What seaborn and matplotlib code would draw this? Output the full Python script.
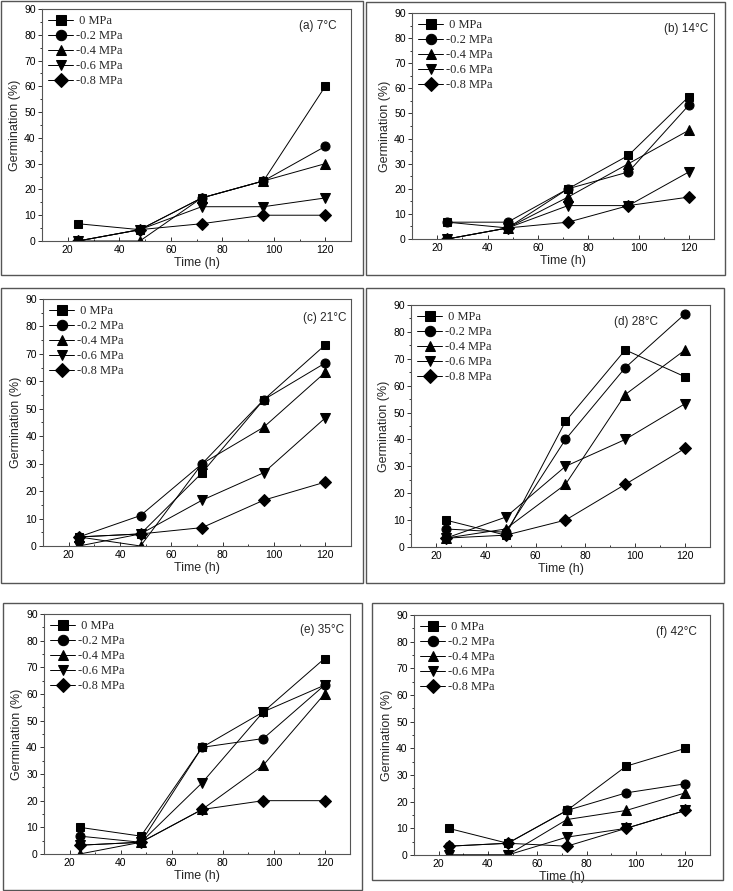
import numpy as np
import pandas as pd
import seaborn as sns
import matplotlib
matplotlib.use("Agg")
import matplotlib.pyplot as plt
from matplotlib.patches import Rectangle
from matplotlib.ticker import MultipleLocator

sns.set_theme(style="ticks")
plt.rcParams['font.family'] = ['Liberation Sans', 'DejaVu Sans']

times = [24, 48, 72, 96, 120]
series_labels = [" 0 MPa", "-0.2 MPa", "-0.4 MPa", "-0.6 MPa", "-0.8 MPa"]
panel_titles = ["(a) 7°C", "(b) 14°C", "(c) 21°C", "(d) 28°C", "(e) 35°C", "(f) 42°C"]

t7 = [[6.7, 4.4, 16.7, 23.3, 60.0],
      [0.0, 4.4, 16.7, 23.3, 36.7],
      [0.0, 0.0, 16.7, 23.3, 30.0],
      [0.0, 4.4, 13.3, 13.3, 16.7],
      [0.0, 4.4, 6.7, 10.0, 10.0]]
t14 = [[6.7, 4.4, 20.0, 33.3, 56.7],
       [6.7, 6.7, 20.0, 26.7, 53.3],
       [0.0, 4.4, 16.7, 30.0, 43.3],
       [0.0, 4.4, 13.3, 13.3, 26.7],
       [0.0, 4.4, 6.7, 13.3, 16.7]]
t21 = [[3.3, 4.4, 26.7, 53.3, 73.3],
       [3.3, 11.1, 30.0, 53.3, 66.7],
       [3.3, 0.0, 30.0, 43.3, 63.3],
       [0.0, 4.4, 16.7, 26.7, 46.7],
       [3.3, 4.4, 6.7, 16.7, 23.3]]
t28 = [[10.0, 4.4, 46.7, 73.3, 63.3],
       [6.7, 5.5, 40.0, 66.7, 86.7],
       [3.3, 6.7, 23.3, 56.7, 73.3],
       [3.3, 11.1, 30.0, 40.0, 53.3],
       [3.3, 4.4, 10.0, 23.3, 36.7]]
t35 = [[10.0, 6.7, 40.0, 53.3, 73.3],
       [6.7, 4.4, 40.0, 43.3, 63.3],
       [0.0, 4.4, 16.7, 33.3, 60.0],
       [3.3, 4.4, 26.7, 53.3, 63.3],
       [3.3, 4.4, 16.7, 20.0, 20.0]]
t42 = [[10.0, 4.4, 16.7, 33.3, 40.0],
       [3.3, 4.4, 16.7, 23.3, 26.7],
       [0.0, 0.0, 13.3, 16.7, 23.3],
       [0.0, 0.0, 6.7, 10.0, 16.7],
       [3.3, 4.4, 3.3, 10.0, 16.7]]
panels_data = [t7, t14, t21, t28, t35, t42]

W, H = 733, 891
fig = plt.figure(figsize=(W / 100, H / 100), dpi=100)

# pixel layout: frame (x0,y0,x1,y1), axes (x0,y0,x1,y1)
frames = [(1, 1, 363, 275), (366, 2, 725, 275),
          (1, 288, 363, 583), (366, 288, 724, 583),
          (3, 603, 362, 890), (372, 603, 723, 880)]
axes_px = [(42, 9, 351, 241), (412, 13, 714, 239),
           (43, 299, 351, 546), (411, 305, 710, 547),
           (44, 614, 350, 854), (414, 615, 710, 855)]
# title placement: (px from axes right to text right, px from axes top to text centre)
title_off = [(14, 17), (6, 16), (5, 19), (52, 17), (6, 16), (13, 17)]

markers = ['s', 'o', '^', 'v', 'D']
msizes = [6, 6.5, 6.5, 6.5, 6]

for fr in frames:
    x0, y0, x1, y1 = fr
    fig.add_artist(Rectangle((x0 / W, 1 - y1 / H), (x1 - x0) / W, (y1 - y0) / H,
                             transform=fig.transFigure, fill=False,
                             edgecolor='#555555', linewidth=1.0))

for i, (data, title) in enumerate(zip(panels_data, panel_titles)):
    x0, y0, x1, y1 = axes_px[i]
    aw, ah = x1 - x0, y1 - y0
    ax = fig.add_axes([x0 / W, 1 - y1 / H, aw / W, ah / H])
    rows = []
    for lab, vals in zip(series_labels, data):
        for t, v in zip(times, vals):
            rows.append({"Time": t, "Germ": v, "Series": lab})
    df = pd.DataFrame(rows)
    for lab, mk, ms in zip(series_labels, markers, msizes):
        sub = df[df["Series"] == lab]
        sns.lineplot(data=sub, x="Time", y="Germ", ax=ax, color='black',
                     marker=mk, markersize=ms, markeredgecolor='black',
                     linewidth=0.7, label=lab)
    ax.set_xlim(10, 130)
    ax.set_ylim(0, 90)
    ax.xaxis.set_major_locator(MultipleLocator(20))
    ax.xaxis.set_minor_locator(MultipleLocator(10))
    ax.yaxis.set_major_locator(MultipleLocator(10))
    ax.yaxis.set_minor_locator(MultipleLocator(5))
    ax.tick_params(axis='y', which='both', direction='out', labelsize=7.5,
                   length=3, width=0.7, pad=1.5, colors='#333333')
    ax.tick_params(axis='y', which='minor', length=1.8)
    ax.tick_params(axis='x', which='both', direction='in', labelsize=7.5,
                   length=3, width=0.7, pad=3, colors='#333333')
    ax.tick_params(axis='x', which='minor', length=1.8)
    ax.tick_params(labelcolor='black')
    for sp in ax.spines.values():
        sp.set_visible(True)
        sp.set_color('#555555')
        sp.set_linewidth(0.8)
    ax.set_xlabel("Time (h)", fontsize=9, labelpad=1)
    ax.set_ylabel("Germination (%)", fontsize=9, labelpad=2)
    ax.legend(loc='upper left', frameon=False,
              prop={'family': ['Liberation Serif', 'DejaVu Serif'], 'size': 9},
              handlelength=2.0, handletextpad=0.2, labelspacing=0.24,
              borderaxespad=0.15, borderpad=0.35, markerscale=1.15)
    dx, dy = title_off[i]
    ax.text(1 - dx / aw, 1 - dy / ah, title, transform=ax.transAxes,
            ha='right', va='center', fontsize=8.5)

fig.savefig("out.png", dpi=100)
